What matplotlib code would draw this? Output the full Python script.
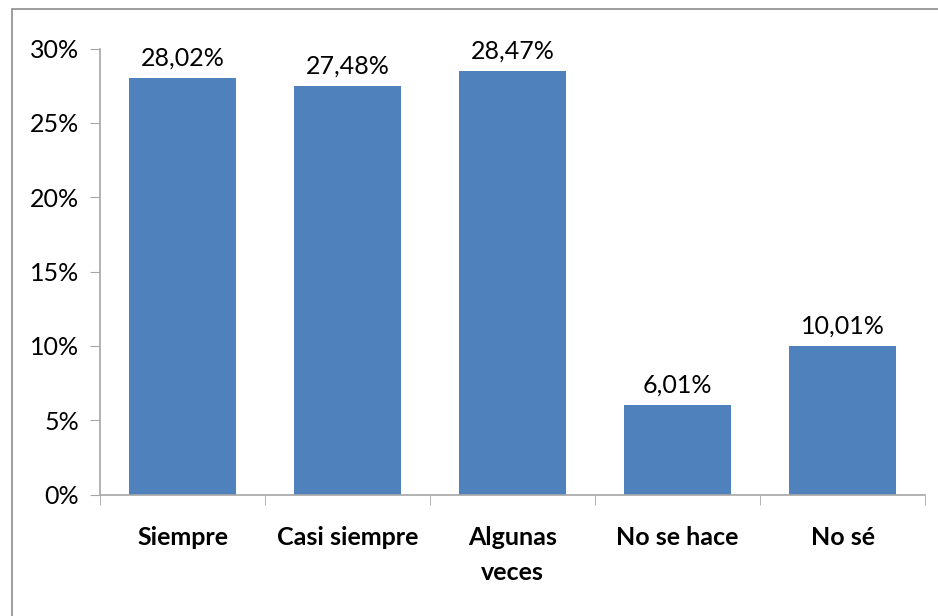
import matplotlib.pyplot as plt
from matplotlib.patches import Rectangle
from matplotlib.ticker import FuncFormatter

categorias = ["Siempre", "Casi siempre", "Algunas\nveces", "No se hace", "No sé"]
valores = [28.02, 27.48, 28.47, 6.01, 10.01]
ticks_y = [0, 5, 10, 15, 20, 25, 30]

AZUL = "#4F81BD"
GRIS = "#A6A6A6"

plt.rcParams["font.family"] = ["Lato", "DejaVu Sans"]

fig = plt.figure(figsize=(9.38, 6.16), dpi=100)
ax = fig.add_axes([100 / 938, 1 - 494.5 / 616, 825 / 938, (494.5 - 48.5) / 616])

# marco del gráfico
fig.patches.append(Rectangle((12 / 938, -0.1), 1.2, 1 - 9 / 616 + 0.1,
                             transform=fig.transFigure, fill=False,
                             edgecolor="#8C8C8C", linewidth=1.2))

x = range(len(categorias))
ax.bar(x, valores, width=0.65, color=AZUL)

for xi, v in zip(x, valores):
    ax.annotate(f"{v:.2f}%".replace(".", ","), (xi, v),
                textcoords="offset points", xytext=(0, 6),
                ha="center", va="bottom", fontsize=18)

ax.set_xlim(-0.5, len(categorias) - 0.5)
ax.set_ylim(0, 30)
ax.set_yticks(ticks_y)
ax.yaxis.set_major_formatter(FuncFormatter(lambda v, p: f"{v:.0f}%"))

ax.set_xticks(list(x))
ax.set_xticklabels(categorias, fontsize=18, fontweight="bold", linespacing=1.6)
ax.set_xticks([i - 0.5 for i in range(len(categorias) + 1)], minor=True)
ax.tick_params(axis="x", which="major", length=0, pad=23)
ax.tick_params(axis="x", which="minor", length=7, color=GRIS, direction="out")
ax.tick_params(axis="y", length=7, color=GRIS, labelsize=18, pad=8)

for lado in ["top", "right"]:
    ax.spines[lado].set_visible(False)
for lado in ["left", "bottom"]:
    ax.spines[lado].set_color(GRIS)
    ax.spines[lado].set_linewidth(1.2)

fig.savefig("out.png", dpi=100)
